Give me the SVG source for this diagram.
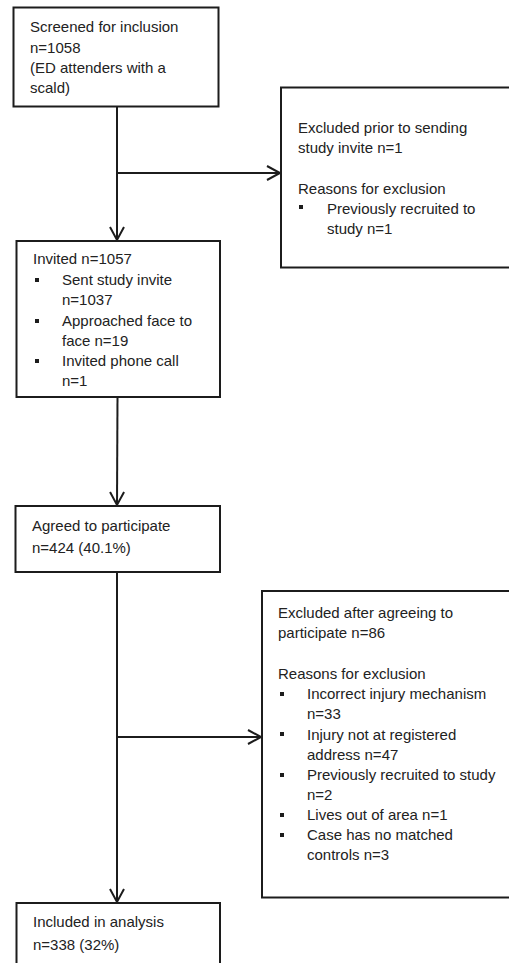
<svg xmlns="http://www.w3.org/2000/svg" width="509" height="963" viewBox="0 0 509 963">
<style>
.box{fill:#fff;stroke:#1c1c1c;stroke-width:2}
.ln{fill:none;stroke:#1c1c1c;stroke-width:2}
text{font-family:"Liberation Sans",Arial,sans-serif;font-size:15px;fill:#222}
.b{fill:#1c1c1c}
</style>
<defs>
<marker id="arr" markerWidth="20" markerHeight="20" refX="14" refY="8" orient="auto" markerUnits="userSpaceOnUse">
<path d="M1,1 L14,8 L1,15" fill="none" stroke="#1c1c1c" stroke-width="2"/>
</marker>
</defs>
<rect width="509" height="963" fill="#fff"/>
<g id="connectors">
<line class="ln" x1="117" y1="107" x2="117" y2="240" marker-end="url(#arr)"/>
<line class="ln" x1="117" y1="173" x2="280" y2="173" marker-end="url(#arr)"/>
<line class="ln" x1="117.5" y1="397" x2="117" y2="505" marker-end="url(#arr)"/>
<line class="ln" x1="117" y1="572" x2="117" y2="902" marker-end="url(#arr)"/>
<line class="ln" x1="117" y1="737" x2="261" y2="737" marker-end="url(#arr)"/>
</g>
<g id="screened">
<rect class="box" x="13.5" y="7.5" width="205" height="99"/>
<text x="30" y="32">Screened for inclusion</text>
<text x="30" y="52.5">n=1058</text>
<text x="30" y="73">(ED attenders with a</text>
<text x="30" y="93">scald)</text>
</g>
<g id="excluded1">
<rect class="box" x="281" y="87.5" width="240" height="180"/>
<text x="298" y="133">Excluded prior to sending</text>
<text x="298" y="153">study invite n=1</text>
<text x="298" y="194">Reasons for exclusion</text>
<rect class="b" x="299" y="205" width="4" height="4"/>
<text x="327" y="214">Previously recruited to</text>
<text x="327" y="234">study n=1</text>
</g>
<g id="invited">
<rect class="box" x="16.5" y="241" width="203.5" height="156"/>
<text x="33" y="264">Invited n=1057</text>
<rect class="b" x="35" y="278" width="4" height="4"/>
<text x="62" y="285">Sent study invite</text>
<text x="62" y="305">n=1037</text>
<rect class="b" x="35" y="319" width="4" height="4"/>
<text x="62" y="326">Approached face to</text>
<text x="62" y="346">face n=19</text>
<rect class="b" x="35" y="359" width="4" height="4"/>
<text x="62" y="366">Invited phone call</text>
<text x="62" y="386">n=1</text>
</g>
<g id="agreed">
<rect class="box" x="15.5" y="506" width="204.5" height="66"/>
<text x="32" y="531">Agreed to participate</text>
<text x="32" y="553">n=424 (40.1%)</text>
</g>
<g id="excluded2">
<rect class="box" x="262" y="591" width="260" height="306.5"/>
<text x="278" y="618">Excluded after agreeing to</text>
<text x="278" y="638">participate n=86</text>
<text x="278" y="679">Reasons for exclusion</text>
<rect class="b" x="280" y="692" width="4" height="4"/>
<text x="307" y="699">Incorrect injury mechanism</text>
<text x="307" y="719">n=33</text>
<rect class="b" x="280" y="732" width="4" height="4"/>
<text x="307" y="740">Injury not at registered</text>
<text x="307" y="760">address n=47</text>
<rect class="b" x="280" y="773" width="4" height="4"/>
<text x="307" y="780">Previously recruited to study</text>
<text x="307" y="800">n=2</text>
<rect class="b" x="280" y="813" width="4" height="4"/>
<text x="307" y="820">Lives out of area n=1</text>
<rect class="b" x="280" y="833" width="4" height="4"/>
<text x="307" y="840">Case has no matched</text>
<text x="307" y="860">controls n=3</text>
</g>
<g id="included">
<rect class="box" x="16.5" y="903" width="203.5" height="80"/>
<text x="33" y="927">Included in analysis</text>
<text x="33" y="950">n=338 (32%)</text>
</g>
</svg>
